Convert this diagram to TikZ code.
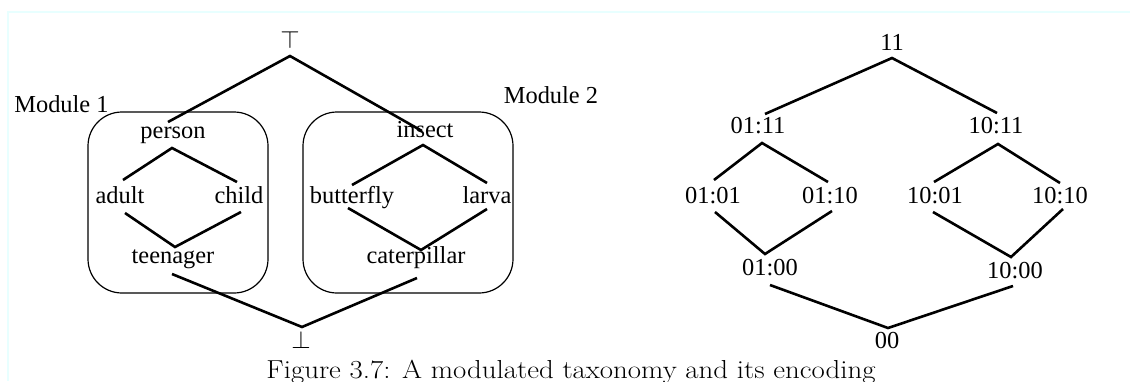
\documentclass[tikz,border=0pt]{standalone}
\usepackage{fontspec}
\setmainfont{Liberation Serif}
\newfontfamily\capfont{Latin Modern Roman}
\begin{document}
\begin{tikzpicture}[x=1pt,y=-1pt,
  lbl/.style={anchor=base,inner sep=0pt,font=\fontsize{24.4}{28}\selectfont},
  edge/.style={line width=2.6pt,line cap=butt,line join=miter},
  module/.style={draw,line width=1.2pt,rounded corners=34pt}]
% page and faint frame
\useasboundingbox (0,0) rectangle (1130,381);
\fill[white] (0,0) rectangle (1130,381);
\draw[color={rgb,255:red,232;green,255;blue,255},line width=1.4pt] (8,381) -- (8,12) -- (1130,12);

% ---------- left: modulated taxonomy ----------
\node[module] (box1) at (178,202.5) [minimum width=180pt,minimum height=181pt] {};
\node[module] (box2) at (408,202.5) [minimum width=210pt,minimum height=181pt] {};
\node[lbl] (mod1) at (61.5,112) {Module 1};
\node[lbl] (mod2) at (551,103) {Module 2};

\node[lbl] (top) at (290,48) {$\top$};
\node[lbl] (person) at (173,138) {person};
\node[lbl] (adult) at (120,203) {adult};
\node[lbl] (child) at (239,203) {child};
\node[lbl] (teen) at (173,263) {teenager};
\node[lbl] (insect) at (425,137) {insect};
\node[lbl] (butterfly) at (352,203) {butterfly};
\node[lbl] (larva) at (487,203) {larva};
\node[lbl] (cater) at (416,263) {caterpillar};
\node[lbl] (bot) at (301,348) {$\bot$};

\coordinate (topV) at (290,56);
\coordinate (personIn) at (168,122);
\coordinate (insectIn) at (422,131);
\coordinate (personV) at (172,148);
\coordinate (adultIn) at (123,180);
\coordinate (childIn) at (237,182);
\coordinate (adultOut) at (125,213);
\coordinate (childOut) at (241,212);
\coordinate (teenV) at (175,247);
\coordinate (insectV) at (423,145);
\coordinate (butterflyIn) at (352,185);
\coordinate (larvaIn) at (487,183);
\coordinate (butterflyOut) at (348,208);
\coordinate (larvaOut) at (487,209);
\coordinate (caterV) at (421,250);
\coordinate (teenOut) at (172,274);
\coordinate (caterOut) at (417,278);
\coordinate (botV) at (302,327);

\draw[edge] (personIn) -- (topV) -- (insectIn);
\draw[edge] (adultIn) -- (personV) -- (childIn);
\draw[edge] (adultOut) -- (teenV) -- (childOut);
\draw[edge] (butterflyIn) -- (insectV) -- (larvaIn);
\draw[edge] (butterflyOut) -- (caterV) -- (larvaOut);
\draw[edge] (teenOut) -- (botV) -- (caterOut);

% ---------- right: encoding ----------
\node[lbl] (e11) at (892,50) {11};
\node[lbl] (e0111) at (758,133) {01:11};
\node[lbl] (e1011) at (996,133) {10:11};
\node[lbl] (e0101) at (713,203) {01:01};
\node[lbl] (e0110) at (830,203) {01:10};
\node[lbl] (e1001) at (935,203) {10:01};
\node[lbl] (e1010) at (1060,203) {10:10};
\node[lbl] (e0100) at (770,275) {01:00};
\node[lbl] (e1000) at (1015,278) {10:00};
\node[lbl] (e00) at (887,348) {00};

\coordinate (v11) at (892,58);
\coordinate (i0111) at (765,114);
\coordinate (i1011) at (997,113);
\coordinate (v0111) at (762,143);
\coordinate (i0101) at (714,180);
\coordinate (i0110) at (828,182);
\coordinate (o0101) at (715,212);
\coordinate (o0110) at (832,211);
\coordinate (v0100) at (765,254);
\coordinate (v1011) at (998,144);
\coordinate (i1001) at (934,182);
\coordinate (i1010) at (1060,183);
\coordinate (o1001) at (933,212);
\coordinate (o1010) at (1063,209);
\coordinate (v1000) at (1011,257);
\coordinate (o0100) at (770,285);
\coordinate (o1000) at (1013,286);
\coordinate (v00) at (888,328);

\draw[edge] (i0111) -- (v11) -- (i1011);
\draw[edge] (i0101) -- (v0111) -- (i0110);
\draw[edge] (o0101) -- (v0100) -- (o0110);
\draw[edge] (i1001) -- (v1011) -- (i1010);
\draw[edge] (o1001) -- (v1000) -- (o1010);
\draw[edge] (o0100) -- (v00) -- (o1000);

% caption, set a little wide
\node[anchor=base,inner sep=0pt,font=\capfont\fontsize{26}{30}\selectfont] (caption) at (571,378)
  {\scalebox{1.11}[1]{Figure 3.7: A modulated taxonomy and its encoding}};
\end{tikzpicture}
\end{document}
